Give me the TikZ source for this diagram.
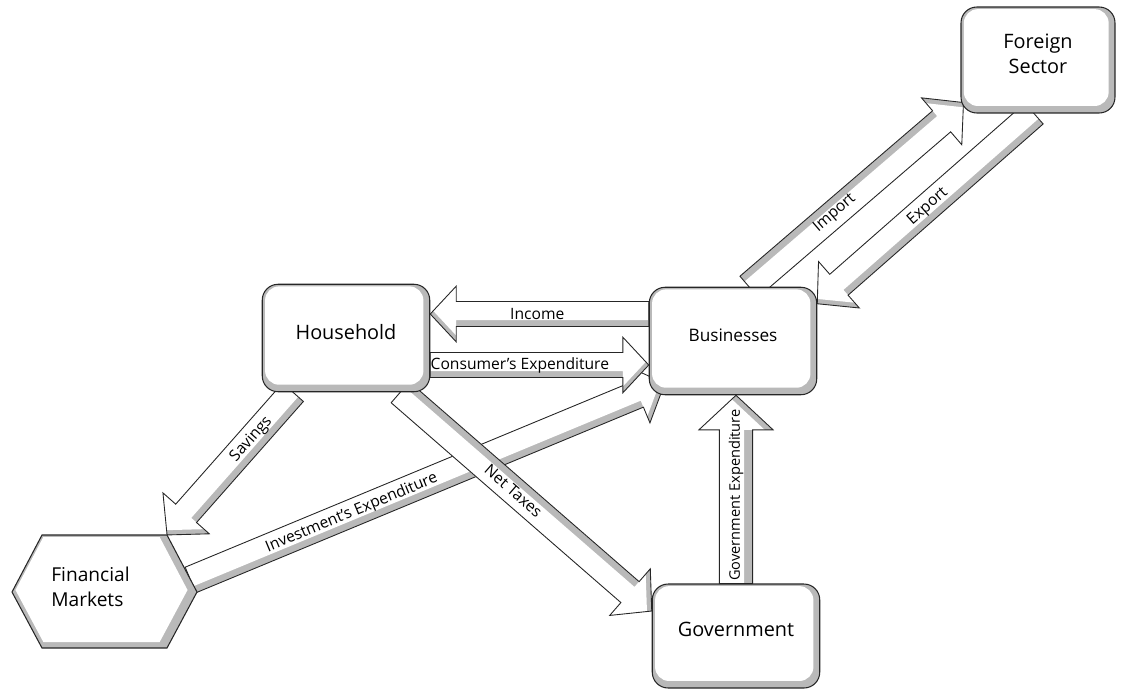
\documentclass[tikz,border=0pt]{standalone}
\usepackage{fontspec}
\setmainfont{Open Sans}
\usepackage{tikz}
\usetikzlibrary{calc,positioning}
\pgfdeclarelayer{back}
\pgfsetlayers{back,main}

% block arrow between two named points: [scale]{from}{to}{shaded side}
\newcommand{\flow}[4][1]{%
  \path let \p1=($(#3)-(#2)$) in \pgfextra{%
    \pgfmathsetmacro\flangle{atan2(\y1,\x1)}\global\let\flowang\flangle
    \pgfmathsetmacro\fllength{veclen(\x1,\y1)}\global\let\flowlen\fllength};
  \pgfmathsetmacro\flw{7.9*#1}\pgfmathsetmacro\flH{17.6*#1}%
  \pgfmathsetmacro\flh{16.4*#1}\pgfmathsetmacro\flb{\flowlen-\flh}%
  \def\flowshape{(0pt,\flw pt) -- (\flb pt,\flw pt) -- (\flb pt,\flH pt) -- (\flowlen pt,0pt)
    -- (\flb pt,-\flH pt) -- (\flb pt,-\flw pt) -- (0pt,-\flw pt) -- cycle}%
  \begin{scope}[shift={(#2)}, rotate=\flowang]
    \begin{scope}
      \clip \flowshape;
      \fill[band] \flowshape;
      \fill[white, yshift={#4*(-4pt)*#1}] \flowshape;
    \end{scope}
    \draw[edge] \flowshape;
  \end{scope}}

\begin{document}
\begin{tikzpicture}[x=0.02cm, y=-0.02cm,
  band/.style={fill=gray!55},
  edge/.style={draw=black!85, line width=0.5pt},
  sector/.style={draw=black!85, line width=0.6pt, fill=white, rounded corners=9pt,
    minimum width=3.35cm, minimum height=2.15cm, align=center, text depth=2.5mm,
    font=\fontsize{11.3}{14}\selectfont,
    path picture={
      \fill[gray!55] (path picture bounding box.south west) rectangle (path picture bounding box.north east);
      \fill[white, rounded corners=8pt] ([shift={(1.6pt,-1.2pt)}]path picture bounding box.north west)
        rectangle ([shift={(-3.6pt,4pt)}]path picture bounding box.south east);}},
  flowtext/.style={font=\fontsize{8.9}{10}\selectfont, inner sep=1pt}]

\useasboundingbox (0,0) rectangle (1123,691);

% sectors
\node[sector] (hh) at (346,338) {Household};
\node[sector, font=\fontsize{9.8}{12}\selectfont] (bus) at (733,341) {Businesses};
\node[sector, minimum height=2.08cm] (gov) at (736,636) {Government};
\node[sector, minimum width=3.08cm, minimum height=2.12cm] (fs) at (1038,60) {Foreign\\Sector};

% financial markets hexagon
\coordinate (fm) at (104.5,592);
\coordinate (fm-ne) at ($(fm)+(62.5,-57)$);
\def\hexpath{(-92.5,0) -- (-62.5,-57) -- (62.5,-57) -- (92.5,0) -- (62.5,56) -- (-62.5,56) -- cycle}
\begin{scope}[shift={(fm)}]
  \begin{scope}
    \clip \hexpath;
    \fill[band] \hexpath;
    \fill[white, shift={(-3,-2)}, scale=0.93] \hexpath;
  \end{scope}
  \draw[draw=black!85, line width=0.6pt] \hexpath;
\end{scope}
\node[font=\fontsize{10.9}{14}\selectfont, align=left] (fin) at ($(fm)+(-14,-5)$) {Financial\\Markets};

% arrow ends
\coordinate (incA) at ($(bus.west)+(0,-27)$);
\coordinate (incB) at ($(hh.east)+(0,-24)$);
\coordinate (conA) at ($(hh.east)+(0,27)$);
\coordinate (conB) at ($(bus.west)+(0,24)$);
\coordinate (impA) at ($(bus.north)+(16,0)$);
\coordinate (impB) at ($(fs.south west)+(3,-11)$);
\coordinate (expA) at ($(fs.south)+(-4,0)$);
\coordinate (expB) at ($(bus.north east)+(0,17)$);
\coordinate (savA) at ($(hh.south)+(-53,0)$);
\coordinate (invA) at ($(fm)+(86,-12)$);
\coordinate (invB) at ($(bus.south west)+(16,-12)$);
\coordinate (taxA) at ($(hh.south east)+(-30,0)$);
\coordinate (taxB) at ($(gov.west)+(0,-25)$);
\coordinate (gexB) at ($(bus.south)+(3,0)$);

\begin{pgfonlayer}{back}
\flow{invA}{invB}{-1}
\path (invA) -- node[flowtext, sloped, pos=.34] {Investment’s Expenditure} (invB);
\flow{savA}{fm-ne}{1}
\path (savA) -- node[flowtext, sloped, pos=.33] {Savings} (fm-ne);
\flow{taxA}{taxB}{1}
\path (taxA) -- node[flowtext, sloped, pos=.45] {Net Taxes} (taxB);
\flow[0.9]{incA}{incB}{1}
\path (incA) -- node[flowtext, pos=.51] {Income} (incB);
\flow[0.9]{conA}{conB}{-1}
\path (conA) -- node[flowtext, pos=.41] {Consumer’s Expenditure} (conB);
\flow{impA}{impB}{1}
\path (impA) -- node[flowtext, sloped, pos=.4] {Import} (impB);
\flow{expA}{expB}{1}
\path (expA) -- node[flowtext, sloped, pos=.49] {Export} (expB);
\flow[1.2]{gov.north}{gexB}{-1}
\path (gov.north) -- node[flowtext, font=\fontsize{8.3}{10}\selectfont, rotate=90, pos=.47] {Government Expenditure} (gexB);
\end{pgfonlayer}
\end{tikzpicture}
\end{document}
